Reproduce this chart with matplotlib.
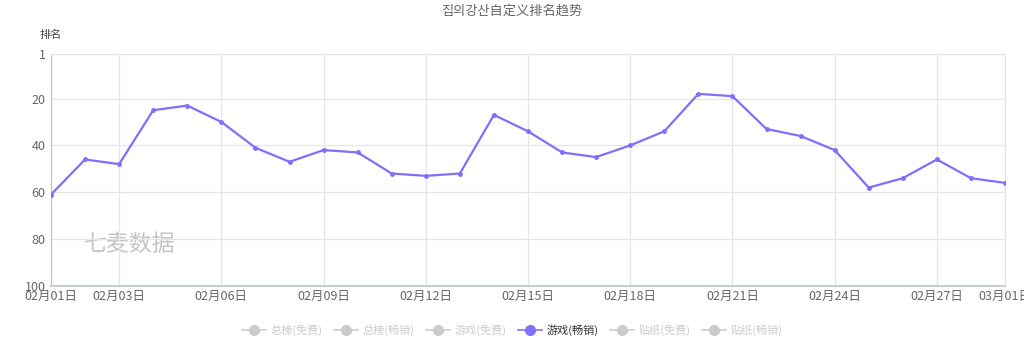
import matplotlib
matplotlib.use("Agg")
import matplotlib.pyplot as plt
from matplotlib.lines import Line2D

plt.rcParams['font.family'] = ['Noto Sans CJK SC', 'DejaVu Sans']

# 02/01 .. 03/01, daily rank
dates = ["02月%02d日" % d for d in range(1, 29)] + ["03月01日"]
ranks = [61, 46, 48, 25, 23, 30, 41, 47, 42, 43, 52, 53, 52, 27, 34,
         43, 45, 40, 34, 18, 19, 33, 36, 42, 58, 54, 46, 54, 56]
tick_idx = [0, 2, 5, 8, 11, 14, 17, 20, 23, 26, 28]
y_ticks = [1, 20, 40, 60, 80, 100]
legend_names = ["总榜(免费)", "总榜(畅销)", "游戏(免费)", "游戏(畅销)", "贴纸(免费)", "贴纸(畅销)"]
active = "游戏(畅销)"

line_color = "#7f6ffc"
grid_color = "#e6e6e6"
text_color = "#666666"

fig = plt.figure(figsize=(10.24, 3.42), dpi=100)
ax = fig.add_axes([51 / 1024, 1 - 286 / 342, (1005 - 51) / 1024, (286 - 54) / 342])

x = list(range(len(dates)))
ax.plot(x, ranks, color=line_color, lw=1.6, marker="o", ms=2.5, zorder=3)

ax.set_xlim(0, len(dates) - 1)
ax.set_ylim(100, 1)
ax.set_yticks(y_ticks)
ax.set_xticks(tick_idx)
ax.set_xticklabels([dates[i] for i in tick_idx])
ax.grid(True, color=grid_color, lw=0.9)
ax.tick_params(length=0, labelsize=9, colors=text_color, pad=4)
ax.tick_params(axis="x", pad=3)
for s in ["top", "right"]:
    ax.spines[s].set_color(grid_color)
ax.spines["left"].set_color("#b8bcc8")
ax.spines["left"].set_linewidth(0.8)
ax.spines["bottom"].set_color("#c8ccd6")
ax.spines["bottom"].set_linewidth(1.5)

# watermark
ax.text(0.034, 0.15, "七麦数据", transform=ax.transAxes, fontsize=16.5,
        style="italic", color="#c4c4c4", zorder=1)

fig.text(0.5, 1 - 11 / 342, "집의강산自定义排名趋势", ha="center", va="center",
         fontsize=9.5, color=text_color)
fig.text(40 / 1024, 1 - 35 / 342, "排名", ha="left", va="center",
         fontsize=8, color="#444444")

handles = []
for name in legend_names:
    c = line_color if name == active else "#cccccc"
    handles.append(Line2D([0], [0], color=c, lw=1.2, marker="o", ms=7))
leg = fig.legend(handles, legend_names, loc="center", bbox_to_anchor=(0.5, 1 - 330 / 342),
                 ncol=6, frameon=False, fontsize=8, handlelength=2.2,
                 columnspacing=1.0, handletextpad=0.4)
for t, name in zip(leg.get_texts(), legend_names):
    t.set_color("#333333" if name == active else "#cccccc")

fig.savefig("out.png", dpi=100)
